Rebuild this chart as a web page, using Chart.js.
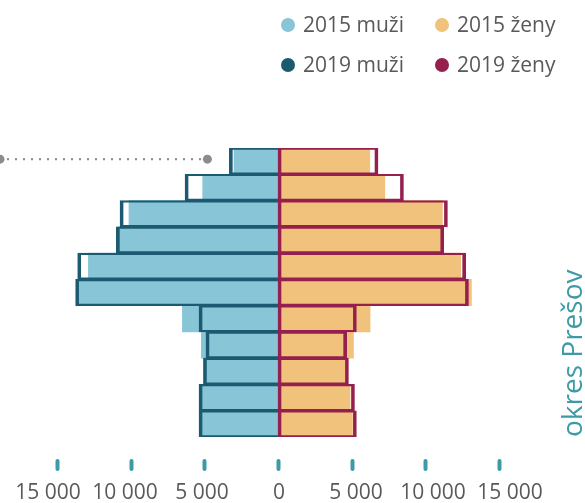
<!DOCTYPE html>
<html lang="sk">
<head>
<meta charset="utf-8">
<script src="https://cdn.jsdelivr.net/npm/chart.js@4/dist/chart.umd.min.js"></script>
<style>
  html, body { margin: 0; padding: 0; background: #fff; }
  .wrap { position: relative; width: 585px; height: 503px; font-family: "Open Sans", sans-serif; }
  .wrap canvas { position: absolute; left: 0; top: 0; }
  .legend { position: absolute; left: 0; top: 0; width: 585px; height: 90px; color: #595959; font-size: 21px; }
  .legend .item { position: absolute; display: flex; align-items: center; line-height: 1; white-space: nowrap; }
  .legend .dot { width: 14px; height: 14px; border-radius: 50%; margin-right: 8px; }
</style>
</head>
<body>
<div class="wrap">
  <canvas id="pyramida" width="585" height="503"></canvas>
  <div class="legend"></div>
</div>
<script>
// vekové skupiny, zhora nadol
const categories = ['75+', '65-74', '55-64', '45-54', '35-44', '25-34', '20-24', '15-19', '10-14', '5-9', '0-4'];

const muzi2015 = [2990, 5120, 10130, 10900, 12890, 13700, 6500, 5210, 4920, 5210, 5210];
const zeny2015 = [6240, 7260, 11180, 11200, 12420, 13150, 6260, 5130, 4650, 4900, 5060];
const muzi2019 = [3310, 6320, 10740, 10990, 13620, 13760, 5370, 4900, 5070, 5370, 5370];
const zeny2019 = [6800, 8530, 11520, 11270, 12760, 12950, 5330, 4670, 4790, 5200, 5330];

const xTicks = [-15000, -10000, -5000, 0, 5000, 10000, 15000];
const leaderEnd = -4800;   // koniec bodkovanej čiary v hornom riadku
const okres = 'okres Prešov';

const colors = {
  muzi2015: '#88c5d7',
  zeny2015: '#f0c27c',
  muzi2019: '#1b5a70',
  zeny2019: '#951f4e',
  teal: '#3d9ba7',
  text: '#595959',
  leader: '#8c8c8c'
};

const fmt = v => Math.abs(v).toLocaleString('en-US').replace(/,/g, ' ');

// bodkovaná čiara, značky osi a zvislý popis okresu
const extras = {
  id: 'extras',
  afterDatasetsDraw(chart) {
    const {ctx, chartArea, scales: {x, y}} = chart;
    const ly = y.getPixelForValue(0) - 2;
    const x0 = chartArea.left;
    const x1 = x.getPixelForValue(leaderEnd);
    ctx.save();
    ctx.strokeStyle = colors.leader;
    ctx.fillStyle = colors.leader;
    ctx.lineWidth = 2.4;
    ctx.lineCap = 'round';
    ctx.setLineDash([0, 8]);
    ctx.beginPath();
    ctx.moveTo(x0, ly);
    ctx.lineTo(x1, ly);
    ctx.stroke();
    ctx.setLineDash([]);
    [x0, x1].forEach(px => {
      ctx.beginPath();
      ctx.arc(px, ly, 4.5, 0, Math.PI * 2);
      ctx.fill();
    });
    ctx.restore();
  },
  afterDraw(chart) {
    const {ctx, chartArea, scales: {x}} = chart;
    ctx.save();
    ctx.strokeStyle = colors.teal;
    ctx.lineWidth = 4;
    ctx.lineCap = 'round';
    xTicks.forEach(v => {
      const px = Math.round(x.getPixelForValue(v)) + 0.5;
      ctx.beginPath();
      ctx.moveTo(px, chartArea.bottom + 24);
      ctx.lineTo(px, chartArea.bottom + 32);
      ctx.stroke();
    });
    ctx.fillStyle = colors.teal;
    ctx.font = '28px "Open Sans"';
    ctx.textAlign = 'left';
    ctx.textBaseline = 'alphabetic';
    ctx.translate(chart.width - 3, chartArea.bottom);
    ctx.rotate(-Math.PI / 2);
    ctx.fillText(okres, 0, 0);
    ctx.restore();
  }
};

const series = [
  {label: '2015 muži', data: muzi2015.map(v => -v), backgroundColor: colors.muzi2015, order: 2},
  {label: '2015 ženy', data: zeny2015, backgroundColor: colors.zeny2015, order: 2},
  {label: '2019 muži', data: muzi2019.map(v => -v), backgroundColor: 'rgba(0,0,0,0)',
   borderColor: colors.muzi2019, borderWidth: {left: 3, right: 0, top: 1.5, bottom: 1.5}, order: 1},
  {label: '2019 ženy', data: zeny2019, backgroundColor: 'rgba(0,0,0,0)',
   borderColor: colors.zeny2019, borderWidth: {left: 3, right: 3, top: 1.5, bottom: 1.5}, order: 1}
];

const noPad = s => { s.paddingLeft = 0; s.paddingRight = 0; };

const chart = new Chart(document.getElementById('pyramida'), {
  type: 'bar',
  data: {
    labels: categories,
    datasets: series.map(s => Object.assign({
      grouped: false,
      barPercentage: 1,
      categoryPercentage: 1,
      borderSkipped: false
    }, s))
  },
  options: {
    indexAxis: 'y',
    responsive: false,
    animation: false,
    layout: {padding: {top: 148, left: 0, right: 29, bottom: 0}},
    plugins: {legend: {display: false}, tooltip: {enabled: false}},
    scales: {
      y: {display: false},
      x: {
        min: -18900,
        max: 18900,
        display: false
      },
      // popisy osi sú o niečo redšie ako značky
      xLabels: {
        type: 'linear',
        position: 'bottom',
        min: -18120,
        max: 17990,
        afterBuildTicks: s => { s.ticks = xTicks.map(v => ({value: v})); },
        afterFit: s => { s.height = 66; noPad(s); },
        grid: {display: false},
        border: {display: false},
        ticks: {
          color: colors.text,
          padding: 35,
          maxRotation: 0,
          autoSkip: false,
          font: {family: '"Open Sans"', size: 21},
          callback: v => fmt(v)
        }
      }
    }
  },
  plugins: [extras]
});

// legenda v dvoch stĺpcoch
const legend = document.querySelector('.legend');
const slots = [[281, 14], [435, 14], [281, 54], [435, 54]];
[0, 1, 2, 3].forEach(i => {
  const ds = chart.data.datasets[i];
  const el = document.createElement('div');
  el.className = 'item';
  el.style.left = slots[i][0] + 'px';
  el.style.top = slots[i][1] + 'px';
  const dot = document.createElement('span');
  dot.className = 'dot';
  dot.style.background = i < 2 ? ds.backgroundColor : ds.borderColor;
  el.appendChild(dot);
  el.appendChild(document.createTextNode(ds.label));
  legend.appendChild(el);
});
</script>
</body>
</html>
